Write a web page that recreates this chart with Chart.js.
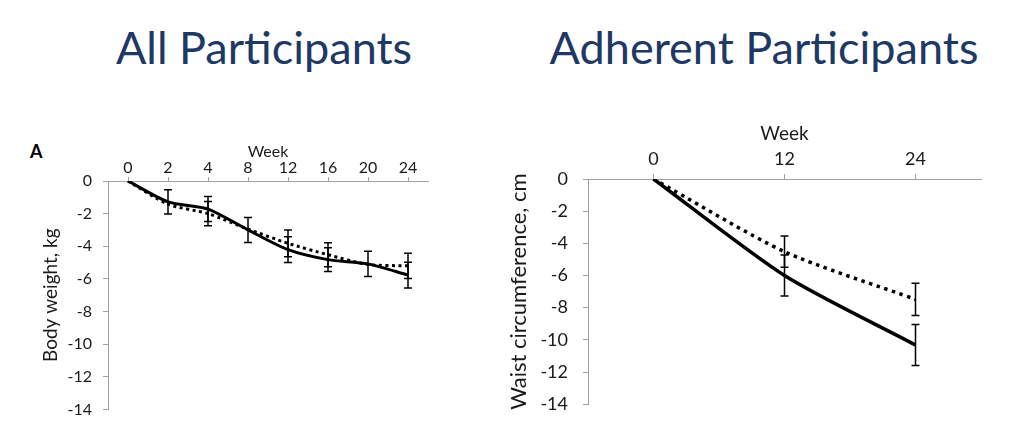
<!DOCTYPE html>
<html>
<head>
<meta charset="utf-8">
<script src="https://cdn.jsdelivr.net/npm/chart.js@4"></script>
<style>
  html, body { margin: 0; padding: 0; background: #ffffff; }
  body { width: 1024px; height: 435px; position: relative; overflow: hidden; font-family: Lato, "Open Sans", sans-serif; }
  .title { position: absolute; color: #203864; font-family: Lato, sans-serif; font-size: 45px; line-height: 1; text-align: center; white-space: nowrap; }
  .panel { position: absolute; }
  .panel-label { position: absolute; font-family: Lato, sans-serif; font-weight: bold; font-size: 18px; color: #000; line-height: 1; }
</style>
</head>
<body>
<div class="title" style="left:114px; top:25px; width:300px;">All Participants</div>
<div class="title" style="left:534px; top:25px; width:460px;">Adherent Participants</div>
<div class="panel-label" style="left:30px; top:142px;">A</div>
<div class="panel" style="left:0px; top:130px; width:440px; height:300px;"><canvas id="left" width="440" height="300"></canvas></div>
<div class="panel" style="left:490px; top:110px; width:520px; height:320px;"><canvas id="right" width="520" height="320"></canvas></div>
<script>
// ---- Data: All Participants (body weight change, kg) ----
const leftWeeks = ['0', '2', '4', '8', '12', '16', '20', '24'];
const leftSolid = [0, -1.28, -1.72, -3.0, -4.21, -4.82, -5.08, -5.77];
const leftSolidErr = [0, 0.75, 0.77, 0.77, 0.79, 0.73, 0.77, 0.79];
const leftDotted = [0, -1.42, -2.0, -2.95, -3.82, -4.52, -5.12, -5.2];
const leftDottedErr = [0, 0, 0.75, 0, 0.82, 0.74, 0, 0.77];
const leftTicks = [0, -2, -4, -6, -8, -10, -12, -14];

// ---- Data: Adherent Participants (waist circumference change, cm) ----
const rightWeeks = ['0', '12', '24'];
const rightSolid = [0, -6.0, -10.32];
const rightSolidErr = [0, 1.28, 1.28];
const rightDotted = [0, -4.52, -7.48];
const rightDottedErr = [0, 0.97, 1.0];
const rightTicks = [0, -2, -4, -6, -8, -10, -12, -14];

const AXIS_GRAY = '#a0a0a0';
const TEXT = '#1a1a1a';

const errorBars = {
  id: 'errorBars',
  afterDatasetsDraw(chart, args, opts) {
    const ctx = chart.ctx;
    const xs = chart.scales.x, ys = chart.scales.y;
    ctx.save();
    ctx.strokeStyle = '#000';
    ctx.lineWidth = opts.lineWidth || 1.5;
    ctx.lineCap = 'butt';
    const half = (opts.capWidth || 8) / 2;
    chart.data.datasets.forEach((ds, i) => {
      if (!ds.errors) return;
      ds.errors.forEach((e, j) => {
        if (!e) return;
        const xp = xs.getPixelForValue(j);
        const v = ds.data[j];
        const yt = ys.getPixelForValue(v + e);
        const yb = ys.getPixelForValue(v - e);
        ctx.beginPath();
        ctx.moveTo(xp, yt); ctx.lineTo(xp, yb);
        ctx.moveTo(xp - half, yt); ctx.lineTo(xp + half, yt);
        ctx.moveTo(xp - half, yb); ctx.lineTo(xp + half, yb);
        ctx.stroke();
      });
    });
    ctx.restore();
  }
};

function makeChart(id, cfg) {
  return new Chart(document.getElementById(id), {
    type: 'line',
    data: {
      labels: cfg.labels,
      datasets: [
        { data: cfg.dotted, errors: cfg.dottedErr, borderColor: '#000', borderWidth: cfg.lw, borderDash: cfg.dash, borderCapStyle: 'butt', pointRadius: 0, tension: 0.25, fill: false },
        { data: cfg.solid, errors: cfg.solidErr, borderColor: '#000', borderWidth: cfg.lw, pointRadius: 0, tension: 0.25, fill: false }
      ]
    },
    options: {
      responsive: false,
      animation: false,
      events: [],
      layout: { padding: cfg.padding },
      plugins: { legend: { display: false }, tooltip: { enabled: false }, title: { display: false },
                 errorBars: { capWidth: cfg.cap, lineWidth: 1.5 } },
      scales: {
        x: {
          type: 'category',
          position: 'top',
          offset: true,
          grid: { drawOnChartArea: false, offset: false, drawTicks: true, tickLength: cfg.xTickLen, color: AXIS_GRAY, tickColor: AXIS_GRAY },
          border: { display: true, color: AXIS_GRAY, width: 1 },
          ticks: { color: TEXT, font: { family: 'Lato', size: cfg.tickFont }, padding: cfg.xPad, maxRotation: 0, autoSkip: false },
          title: { display: true, text: 'Week', color: TEXT, font: { family: 'Lato', size: cfg.titleFont }, padding: { top: cfg.xTitlePad, bottom: 0 } },
          afterFit(scale) { scale.height = cfg.xHeight; }
        },
        y: {
          min: -14, max: 0,
          afterBuildTicks(scale) { scale.ticks = cfg.yTicks.map(v => ({ value: v })); },
          grid: { drawOnChartArea: false, drawTicks: true, tickLength: cfg.yTickLen, color: AXIS_GRAY, tickColor: AXIS_GRAY },
          border: { display: true, color: AXIS_GRAY, width: 1 },
          ticks: { color: TEXT, font: { family: 'Lato', size: cfg.tickFont }, padding: cfg.yPad },
          title: { display: true, text: cfg.yTitle, color: TEXT, font: { family: 'Lato', size: cfg.yTitleFont }, padding: { top: cfg.yTitlePad, bottom: 0 } },
          afterFit(scale) { scale.width = cfg.yWidth; }
        }
      }
    },
    plugins: [errorBars]
  });
}

makeChart('left', {
  labels: leftWeeks, solid: leftSolid, solidErr: leftSolidErr, dotted: leftDotted, dottedErr: leftDottedErr, yTicks: leftTicks,
  lw: 3, dash: [3, 3.5], cap: 8,
  padding: { left: 0, top: 0, right: 12, bottom: 20 },
  xHeight: 51, yWidth: 108,
  xTickLen: 4, yTickLen: 5, xPad: 0, yPad: 11,
  tickFont: 16, titleFont: 16, yTitleFont: 19,
  xTitlePad: 12, yTitlePad: 39,
  yTitle: 'Body weight, kg'
});

makeChart('right', {
  labels: rightWeeks, solid: rightSolid, solidErr: rightSolidErr, dotted: rightDotted, dottedErr: rightDottedErr, yTicks: rightTicks,
  lw: 3.5, dash: [3.5, 4.5], cap: 8,
  padding: { left: 0, top: 0, right: 29, bottom: 9 },
  xHeight: 69, yWidth: 98,
  xTickLen: 5, yTickLen: 5, xPad: 4, yPad: 15,
  tickFont: 18, titleFont: 19, yTitleFont: 22,
  xTitlePad: 12, yTitlePad: 16,
  yTitle: 'Waist circumference, cm'
});
</script>
</body>
</html>
